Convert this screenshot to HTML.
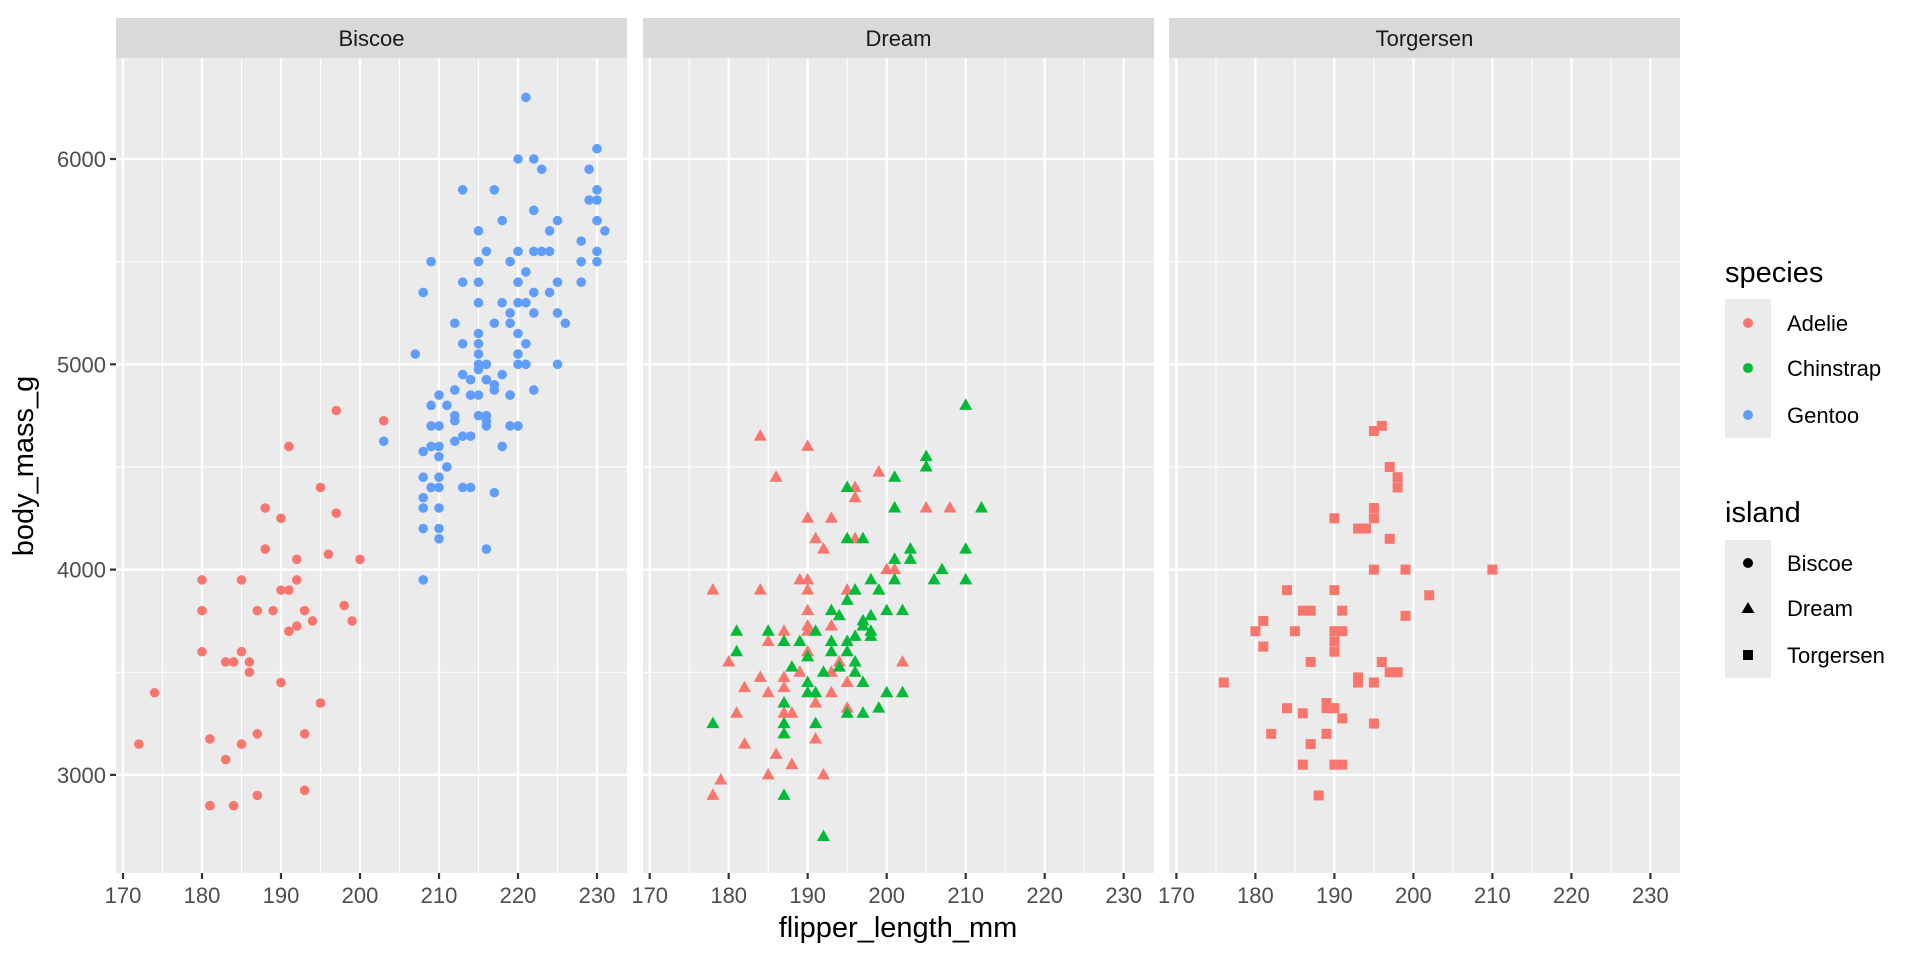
<!DOCTYPE html>
<html><head><meta charset="utf-8"><style>
html,body{margin:0;padding:0;background:#fff;}
svg{display:block;font-family:"Liberation Sans",Arial,sans-serif;}
</style></head><body>
<svg id="s" width="1920" height="960" viewBox="0 0 1920 960" xmlns="http://www.w3.org/2000/svg">
<g id="g"></g>
<text x="898" y="937" font-size="29" text-anchor="middle" fill="#000">flipper_length_mm</text>
<text transform="translate(33,466) rotate(-90)" font-size="29" text-anchor="middle" fill="#000">body_mass_g</text>
<text x="1725" y="282" font-size="29" fill="#000">species</text>
<rect x="1725" y="299" width="46" height="139" fill="#EBEBEB"/>
<circle cx="1748" cy="323" r="5" fill="#F8766D"/>
<circle cx="1748" cy="368" r="5" fill="#00BA38"/>
<circle cx="1748" cy="415" r="5" fill="#619CFF"/>
<text x="1787" y="331" font-size="22" fill="#000">Adelie</text>
<text x="1787" y="376" font-size="22" fill="#000">Chinstrap</text>
<text x="1787" y="423" font-size="22" fill="#000">Gentoo</text>
<text x="1725" y="522" font-size="29" fill="#000">island</text>
<rect x="1725" y="540" width="46" height="138" fill="#EBEBEB"/>
<circle cx="1748" cy="563" r="5" fill="#000"/>
<polygon points="1748,602 1754.5,613 1741.5,613" fill="#000"/>
<rect x="1743" y="650" width="10" height="10" fill="#000"/>
<text x="1787" y="571" font-size="22" fill="#000">Biscoe</text>
<text x="1787" y="616" font-size="22" fill="#000">Dream</text>
<text x="1787" y="663" font-size="22" fill="#000">Torgersen</text>
</svg>
<script>
(function(){
var NS="http://www.w3.org/2000/svg",g=document.getElementById("g");
function el(t,a,txt){var e=document.createElementNS(NS,t);for(var k in a)e.setAttribute(k,a[k]);if(txt!==undefined)e.textContent=txt;g.appendChild(e);return e;}
var panels=[{l:116,o:123,name:"Biscoe"},{l:643,o:649.7,name:"Dream"},{l:1169,o:1176.4,name:"Torgersen"}];
var W=511,T=58,B=873,sx=7.9,sy=0.2053;
function Y(v){return 159+(6000-v)*sy;}
panels.forEach(function(p,i){
 el("rect",{x:p.l,y:T,width:W,height:B-T,fill:"#EBEBEB"});
 el("rect",{x:p.l,y:18,width:W,height:40,fill:"#D9D9D9"});
 el("text",{x:p.l+W/2,y:46,"font-size":22,"text-anchor":"middle",fill:"#1A1A1A"},p.name);
 [2500,3500,4500,5500].forEach(function(v){el("line",{x1:p.l,x2:p.l+W,y1:Y(v),y2:Y(v),stroke:"#fff","stroke-width":1.1});});
 [175,185,195,205,215,225].forEach(function(v){var x=p.o+(v-170)*sx;el("line",{x1:x,x2:x,y1:T,y2:B,stroke:"#fff","stroke-width":1.1});});
 [3000,4000,5000,6000].forEach(function(v){el("line",{x1:p.l,x2:p.l+W,y1:Y(v),y2:Y(v),stroke:"#fff","stroke-width":2.2});});
 [170,180,190,200,210,220,230].forEach(function(v){var x=p.o+(v-170)*sx;el("line",{x1:x,x2:x,y1:T,y2:B,stroke:"#fff","stroke-width":2.2});
  el("line",{x1:x,x2:x,y1:B,y2:B+6,stroke:"#333","stroke-width":2.2});
  el("text",{x:x,y:903,"font-size":22,"text-anchor":"middle",fill:"#4D4D4D"},""+v);});
});
[3000,4000,5000,6000].forEach(function(v){el("line",{x1:110,x2:116,y1:Y(v),y2:Y(v),stroke:"#333","stroke-width":2.2});
 el("text",{x:106,y:Y(v)+8,"font-size":22,"text-anchor":"end",fill:"#4D4D4D"},""+v);});
var R="#F8766D",G="#00BA38",Bl="#619CFF";
var bA=[[172,3150],[174,3400],[180,3950],[180,3800],[180,3600],[181,3175],[181,2850],[183,3550],[183,3075],[184,3550],[184,2850],[185,3950],[185,3600],[185,3150],[186,3550],[186,3500],[187,3800],[187,3200],[187,2900],[188,4300],[188,4100],[189,3800],[190,4250],[190,3900],[190,3450],[191,4600],[191,3900],[191,3700],[192,4050],[192,3950],[192,3725],[193,3800],[193,3200],[193,2925],[194,3750],[195,4400],[195,3350],[196,4075],[197,4775],[197,4275],[198,3825],[199,3750],[200,4050],[203,4725]];
var bG=[[221,6300],[230,6050],[220,6000],[222,6000],[223,5950],[229,5950],[213,5850],[217,5850],[230,5850],[229,5800],[230,5800],[222,5750],[218,5700],[225,5700],[230,5700],[215,5650],[224,5650],[231,5650],[228,5600],[216,5550],[220,5550],[222,5550],[223,5550],[224,5550],[230,5550],[209,5500],[215,5500],[219,5500],[228,5500],[230,5500],[221,5450],[213,5400],[215,5400],[220,5400],[225,5400],[228,5400],[208,5350],[222,5350],[224,5350],[215,5300],[218,5300],[220,5300],[221,5300],[219,5250],[222,5250],[225,5250],[212,5200],[217,5200],[219,5200],[226,5200],[215,5150],[220,5150],[213,5100],[215,5100],[221,5100],[207,5050],[215,5050],[220,5050],[215,5000],[216,5000],[220,5000],[221,5000],[225,5000],[215,4975],[213,4950],[218,4950],[214,4925],[216,4925],[217,4900],[217,4875],[212,4875],[222,4875],[210,4850],[214,4850],[215,4850],[219,4850],[209,4800],[211,4800],[212,4750],[212,4725],[215,4750],[216,4750],[216,4725],[216,4700],[209,4700],[210,4700],[219,4700],[220,4700],[213,4650],[214,4650],[212,4625],[209,4600],[210,4600],[218,4600],[208,4575],[210,4550],[211,4500],[208,4450],[210,4450],[209,4400],[210,4400],[213,4400],[214,4400],[217,4375],[208,4350],[208,4300],[210,4300],[208,4200],[210,4200],[210,4150],[216,4100],[208,3950],[203,4625]];
var dR=[[184,4650],[190,4600],[186,4450],[199,4475],[196,4400],[196,4350],[205,4300],[208,4300],[190,4250],[193,4250],[191,4150],[196,4150],[192,4100],[200,4000],[201,4000],[189,3950],[190,3950],[178,3900],[184,3900],[190,3900],[195,3900],[190,3800],[193,3725],[187,3700],[190,3725],[190,3700],[185,3650],[190,3600],[180,3550],[194,3550],[202,3550],[189,3500],[193,3500],[184,3475],[187,3475],[182,3425],[187,3425],[195,3450],[185,3400],[193,3400],[191,3350],[181,3300],[187,3300],[188,3300],[195,3325],[191,3175],[182,3150],[186,3100],[188,3050],[179,2975],[185,3000],[192,3000],[178,2900]];
var dG=[[210,4800],[205,4550],[205,4500],[201,4450],[195,4400],[201,4300],[212,4300],[195,4150],[197,4150],[203,4100],[210,4100],[201,4050],[203,4050],[207,4000],[198,3950],[201,3950],[206,3950],[210,3950],[196,3900],[199,3900],[195,3850],[193,3800],[194,3775],[200,3800],[202,3800],[198,3775],[197,3750],[197,3725],[198,3700],[198,3675],[181,3700],[185,3700],[191,3700],[187,3650],[189,3650],[193,3650],[195,3650],[196,3675],[181,3600],[190,3575],[193,3600],[195,3600],[196,3550],[188,3525],[194,3525],[192,3500],[196,3500],[190,3450],[197,3450],[190,3400],[191,3400],[200,3400],[202,3400],[187,3350],[195,3300],[197,3300],[199,3325],[178,3250],[187,3250],[191,3250],[187,3200],[187,2900],[192,2700]];
var tR=[[196,4700],[195,4675],[197,4500],[198,4450],[198,4400],[195,4300],[195,4250],[190,4250],[193,4200],[194,4200],[197,4150],[195,4000],[199,4000],[210,4000],[184,3900],[190,3900],[202,3875],[186,3800],[187,3800],[191,3800],[199,3775],[181,3750],[180,3700],[185,3700],[190,3700],[191,3700],[190,3650],[190,3600],[181,3625],[187,3550],[196,3550],[197,3500],[198,3500],[193,3475],[193,3450],[195,3450],[176,3450],[189,3350],[190,3325],[189,3325],[184,3325],[186,3300],[191,3275],[195,3250],[182,3200],[189,3200],[187,3150],[186,3050],[190,3050],[191,3050],[188,2900]];
function circ(pi,d,c){d.forEach(function(q){el("circle",{cx:panels[pi].o+(q[0]-170)*sx,cy:Y(q[1]),r:4.8,fill:c});});}
function tri(pi,d,c){d.forEach(function(q){var x=panels[pi].o+(q[0]-170)*sx,y=Y(q[1]);el("polygon",{points:x+","+(y-7)+" "+(x+6.5)+","+(y+4.5)+" "+(x-6.5)+","+(y+4.5),fill:c});});}
function sq(pi,d,c){d.forEach(function(q){var x=panels[pi].o+(q[0]-170)*sx,y=Y(q[1]);el("rect",{x:x-5,y:y-5,width:10,height:10,fill:c});});}
circ(0,bA,R);circ(0,bG,Bl);
tri(1,dR,R);tri(1,dG,G);
sq(2,tR,R);
})();
</script>
</body></html>
